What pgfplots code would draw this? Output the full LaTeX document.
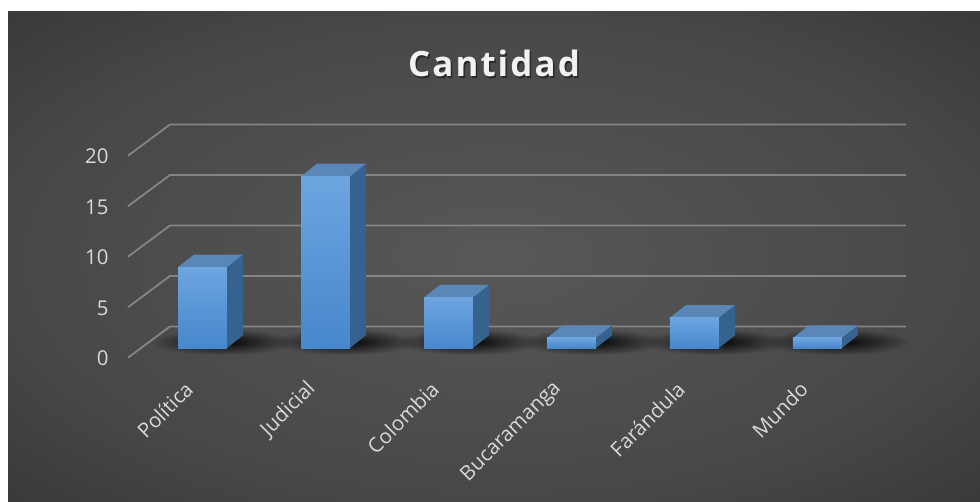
\documentclass[border=0pt]{standalone}
\usepackage{pgfplots}
\pgfplotsset{compat=1.18}
\usepackage{pgfplotstable}
\usetikzlibrary{fadings}
\usepackage{fontspec}
\setmainfont{Open Sans}
\newfontfamily\titlefont[LetterSpace=6]{Open Sans}

\definecolor{bgin}{HTML}{585858}
\definecolor{bgmid}{HTML}{474747}
\definecolor{bgout}{HTML}{272727}
\definecolor{gridc}{HTML}{858585}
\definecolor{txt}{HTML}{D9D9D9}
\definecolor{frtop}{HTML}{6DA5E0}
\definecolor{frbot}{HTML}{4787CC}
\definecolor{topc}{HTML}{5A86B8}
\definecolor{sidec}{HTML}{36628F}

\pgfdeclareradialshading{bgshade}{\pgfpoint{0bp}{0bp}}{%
  color(0bp)=(bgin); color(25bp)=(bgmid); color(50bp)=(bgout);
  color(100bp)=(bgout)}
\tikzfading[name=sombra, inner color=transparent!5, outer color=transparent!100]

% categorias: 0 Politica, 1 Judicial, 2 Colombia, 3 Bucaramanga, 4 Farandula, 5 Mundo
\pgfplotstableread{
idx v
0 8
1 17
2 5
3 1
4 3
5 1
}\datos

\newcommand\hw{0.199}
\newcommand\ddx{0.130}
\newcommand\ddy{1.25}

\begin{document}
\begin{tikzpicture}
\useasboundingbox (0,0) rectangle (980bp,502bp);
\fill[white] (0,0) rectangle (980bp,502bp);
\shade[shading=bgshade] (8bp,0) rectangle (980bp,490bp);

% titulo
\node[anchor=base, text=black, opacity=0.45] at (495.5bp,423.5bp)
  {\titlefont\bfseries\fontsize{35}{38}\selectfont Cantidad};
\node[anchor=base, text=white!95!black] at (494bp,425bp)
  {\titlefont\bfseries\fontsize{35}{38}\selectfont Cantidad};

\begin{axis}[
  at={(128bp,143.9bp)}, anchor=south west,
  scale only axis, width=778bp, height=235.3bp,
  xmin=-0.6057, xmax=5.72, ymin=-1, ymax=22.3,
  clip=false,
  axis line style={draw=none},
  tick style={draw=none},
  xtick={0,...,5},
  xticklabels={Política,Judicial,Colombia,Bucaramanga,Farándula,Mundo},
  ytick={-0.94,4.06,9.06,14.06,19.06},
  yticklabels={0,5,10,15,20},
  /pgf/number format/assume math mode=true,
  ticklabel style={font=\fontsize{20.5}{22}\selectfont, text=txt},
  yticklabel style={anchor=east, xshift=-16bp, yshift=-1bp},
  xticklabel style={xshift=-11bp, yshift=-25bp, rotate=45, anchor=east},
]

% lineas de cuadricula (piso y pared)
\pgfplotsinvokeforeach{0,5,10,15,20}{
  \pgfmathsetmacro\yf{#1-0.96}
  \pgfmathsetmacro\ybk{#1+2.13}
  \edef\cmd{\noexpand\addplot[gridc, line width=1.8bp] coordinates {(-0.6057,\yf) (-0.2642,\ybk) (5.72,\ybk)};}
  \cmd
}

% sombras y barras 3D
\pgfplotsinvokeforeach{0,...,5}{
  \pgfplotstablegetelem{#1}{v}\of\datos
  \pgfmathsetmacro\yv{\pgfplotsretval}
  \pgfmathsetmacro\yb{\pgfplotsretval+\ddy}
  \pgfmathsetmacro\xl{#1-\hw}
  \pgfmathsetmacro\xr{#1+\hw}
  \pgfmathsetmacro\xlb{#1-\hw+\ddx}
  \pgfmathsetmacro\xrb{#1+\hw+\ddx}
  \pgfmathsetmacro\sa{#1-\hw-0.22}
  \pgfmathsetmacro\sb{#1+\hw+\ddx+0.42}
  \edef\cmd{
    \noexpand\addplot[draw=none, fill=black, path fading=sombra] coordinates {(\sa,-0.7) (\sb,-0.7) (\sb,1.9) (\sa,1.9)} -- cycle;
    \noexpand\addplot[draw=none, fill=sidec] coordinates {(\xr,0) (\xrb,\ddy) (\xrb,\yb) (\xr,\yv)} -- cycle;
    \noexpand\addplot[draw=none, fill=topc] coordinates {(\xl,\yv) (\xr,\yv) (\xrb,\yb) (\xlb,\yb)} -- cycle;
    \noexpand\addplot[draw=none, top color=frtop, bottom color=frbot] coordinates {(\xl,0) (\xr,0) (\xr,\yv) (\xl,\yv)} -- cycle;
  }
  \cmd
}
\end{axis}
\end{tikzpicture}
\end{document}
